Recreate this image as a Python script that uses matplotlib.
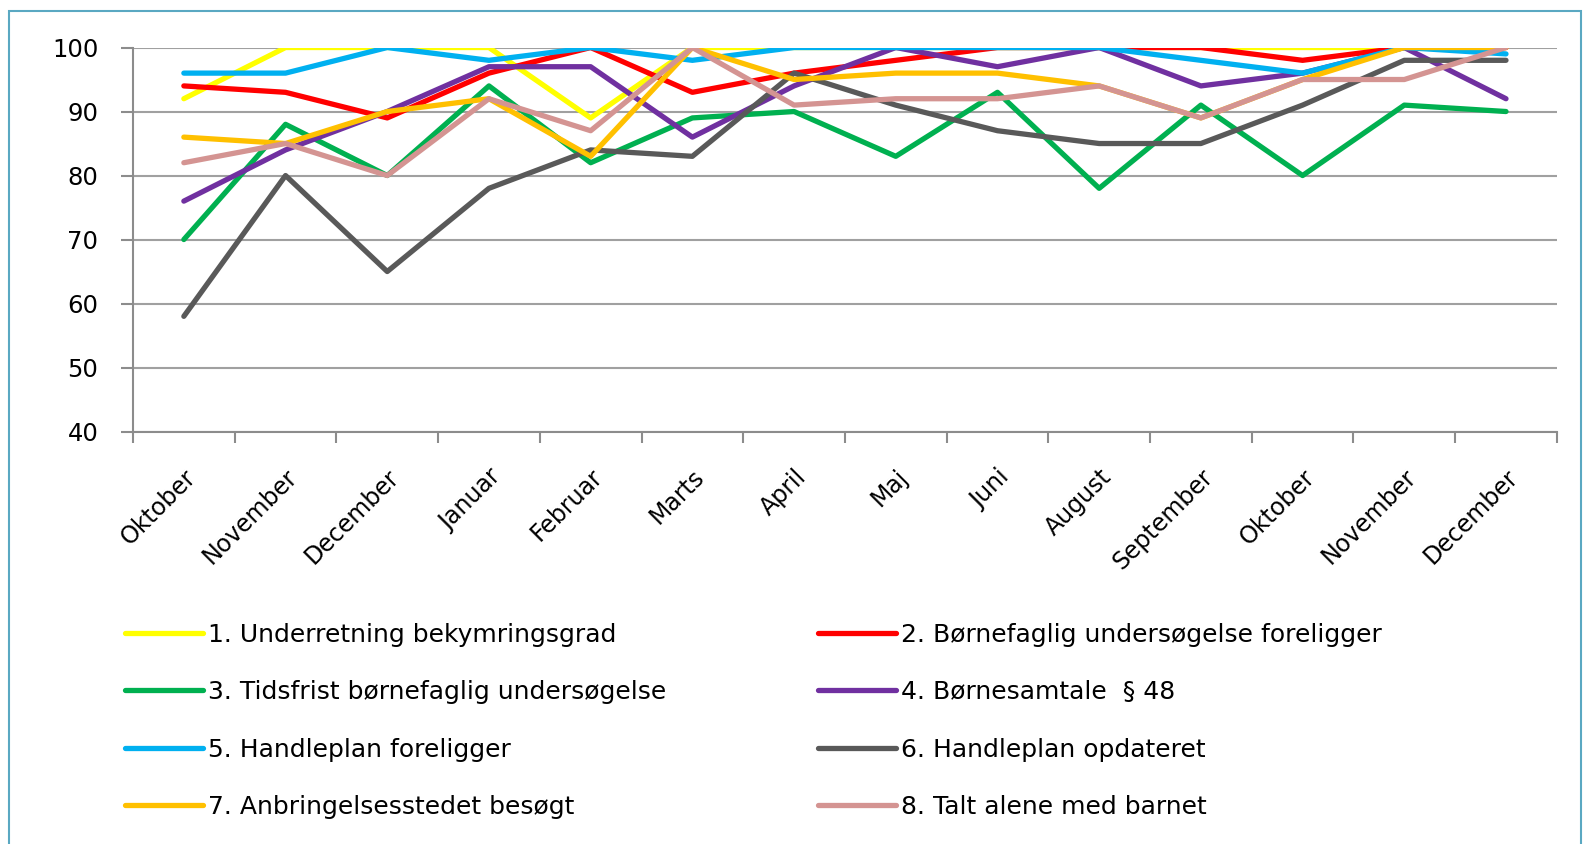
import matplotlib
matplotlib.use("Agg")
import matplotlib.pyplot as plt
from matplotlib.patches import Rectangle


# Data
months = ["Oktober", "November", "December", "Januar", "Februar", "Marts", "April",
          "Maj", "Juni", "August", "September", "Oktober", "November", "December"]

underretning = [92, 100, 100, 100, 89, 100, 100, 100, 100, 100, 100, 100, 100, 100]
undersoegelse = [94, 93, 89, 96, 100, 93, 96, 98, 100, 100, 100, 98, 100, 100]
tidsfrist = [70, 88, 80, 94, 82, 89, 90, 83, 93, 78, 91, 80, 91, 90]
boernesamtale = [76, 84, 90, 97, 97, 86, 94, 100, 97, 100, 94, 96, 100, 92]
handleplan = [96, 96, 100, 98, 100, 98, 100, 100, 100, 100, 98, 96, 100, 99]
handleplan_opd = [58, 80, 65, 78, 84, 83, 96, 91, 87, 85, 85, 91, 98, 98]
besoegt = [86, 85, 90, 92, 83, 100, 95, 96, 96, 94, 89, 95, 100, 100]
talt_alene = [82, 85, 80, 92, 87, 100, 91, 92, 92, 94, 89, 95, 95, 100]

labels = ["1. Underretning bekymringsgrad",
          "2. Børnefaglig undersøgelse foreligger",
          "3. Tidsfrist børnefaglig undersøgelse",
          "4. Børnesamtale  § 48",
          "5. Handleplan foreligger",
          "6. Handleplan opdateret",
          "7. Anbringelsesstedet besøgt",
          "8. Talt alene med barnet"]
series = [underretning, undersoegelse, tidsfrist, boernesamtale,
          handleplan, handleplan_opd, besoegt, talt_alene]
colors = ["#FFFF00", "#FF0000", "#00B050", "#7030A0",
          "#00B0F0", "#595959", "#FFC000", "#D49492"]

# Plot
fig = plt.figure(figsize=(15.87, 8.44), dpi=100)
ax = fig.add_axes([0.0838, 0.4887, 0.981 - 0.0838, 0.9437 - 0.4887])

x = list(range(len(months)))
lines = []
for s, c, lab in zip(series, colors, labels):
    ln, = ax.plot(x, s, color=c, lw=3.8, label=lab, solid_capstyle="round")
    lines.append(ln)

ax.set_ylim(40, 100)
ax.set_xlim(-0.5, len(months) - 0.5)
ax.set_yticks(range(40, 101, 10))
ax.yaxis.grid(True, color="#A0A0A0", lw=1.5)
ax.set_axisbelow(True)

for sp in ["top", "right"]:
    ax.spines[sp].set_visible(False)
for sp in ["left", "bottom"]:
    ax.spines[sp].set_color("#8C8C8C")
    ax.spines[sp].set_linewidth(1.5)

ax.tick_params(axis="y", length=9, width=1.5, color="#8C8C8C", pad=16, labelsize=17.5)
ax.set_xticks(x)
ax.set_xticklabels(months, rotation=45, ha="right", va="top", rotation_mode="anchor", fontsize=17)
ax.set_xticks([i - 0.5 for i in range(len(months) + 1)], minor=True)
ax.tick_params(axis="x", which="major", length=0, pad=24)
ax.tick_params(axis="x", which="minor", length=8, width=1.5, color="#8C8C8C")

# legend: row-wise 1,2 / 3,4 ...
order = [0, 2, 4, 6, 1, 3, 5, 7]
fig.legend([lines[i] for i in order], [labels[i] for i in order],
           ncol=2, loc="upper left", bbox_to_anchor=(0.0725, 0.274),
           frameon=False, fontsize=18, handlelength=3.1, handletextpad=0.2,
           columnspacing=6.1, labelspacing=1.34, borderaxespad=0)

# outer border
fig.patches.append(Rectangle((9 / 1587, -0.01), (1581 - 9) / 1587, 1 - 11 / 844 + 0.01,
                             transform=fig.transFigure, fill=False,
                             edgecolor="#5AA8C2", lw=1.5))

fig.savefig("out.png", dpi=100)
